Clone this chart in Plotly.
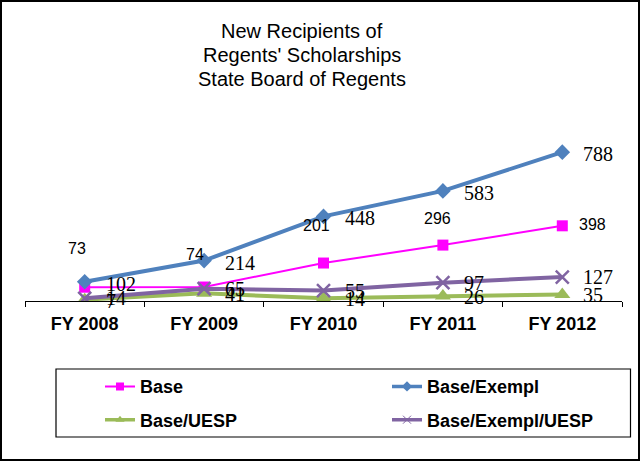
import plotly.graph_objects as go

# ---------------- data ----------------
categories = ["FY 2008", "FY 2009", "FY 2010", "FY 2011", "FY 2012"]
base = [73, 74, 201, 296, 398]
base_exempl = [102, 214, 448, 583, 788]
base_uesp = [7, 41, 14, 26, 35]
base_exempl_uesp = [14, 65, 55, 97, 127]
series_names = ["Base", "Base/Exempl", "Base/UESP", "Base/Exempl/UESP"]
title_lines = ["New Recipients of", "Regents' Scholarships", "State Board of Regents"]

# ---------------- layout geometry ----------------
W, H = 640, 461
ML, MR, MT, MB = 25, 18, 131, 160
PW, PH = W - ML - MR, H - MT - MB


def px(x):
    return (x - ML) / PW


def py(y):
    return (H - MB - y) / PH


SANS = "Liberation Sans, Arial, sans-serif"
SERIF = "Liberation Serif, Times New Roman, serif"

colors = ["#FF00FF", "#4F81BD", "#9BBB59", "#8064A2"]
widths = [2, 4, 4, 4]
symbols = ["square", "diamond", "triangle-up", "x-thin"]
msizes = [11, 12, 14, 13]
leg_msizes = [8, 8, 8, 8]
leg_widths = [2, 3.5, 3.5, 3.5]
legends = ["legend", "legend2", "legend3", "legend4"]
legend_pos = [(100, 386.7), (387, 386.7), (100, 420), (387, 420)]
all_series = [base, base_exempl, base_uesp, base_exempl_uesp]

fig = go.Figure()
for name, vals, c, w, s, ms in zip(series_names, all_series, colors, widths,
                                   symbols, msizes):
    marker = dict(symbol=s, size=ms, color=c)
    if s == "x-thin":
        marker["line"] = dict(width=2.5, color=c)
    fig.add_trace(go.Scatter(
        x=categories, y=vals, name=name, mode="lines+markers",
        line=dict(color=c, width=w), marker=marker, showlegend=False,
        hoverinfo="skip"))

# legend entries (smaller symbols, as in the reference legend)
for name, c, lw, s, ms, lg in zip(series_names, colors, leg_widths, symbols,
                                  leg_msizes, legends):
    marker = dict(symbol=s, size=ms, color=c)
    if s == "x-thin":
        marker["line"] = dict(width=1, color=c)
    fig.add_trace(go.Scatter(
        x=[categories[0]], y=[None], name=name, mode="lines+markers",
        line=dict(color=c, width=lw), marker=marker, legend=lg,
        showlegend=True, hoverinfo="skip"))

# ---------------- data labels ----------------
annotations = []
# Base labels (sans-serif, custom placement)
base_shift = [(-8, 39), (-9, 33), (-7, 38), (-5, 27), (30, 1)]
for cat, v, (dx, dy) in zip(categories, base, base_shift):
    annotations.append(dict(x=cat, y=v, xref="x", yref="y", text=str(v),
                            showarrow=False, xshift=dx, yshift=dy,
                            xanchor="center", yanchor="middle",
                            font=dict(family=SANS, size=16, color="black")))
# other series: label to the right (serif)
right_shift = {1: -2, 2: -1, 3: 0}
for idx in (1, 2, 3):
    for cat, v in zip(categories, all_series[idx]):
        annotations.append(dict(x=cat, y=v, xref="x", yref="y", text=str(v),
                                showarrow=False, xshift=19,
                                yshift=right_shift[idx],
                                xanchor="left", yanchor="middle",
                                font=dict(family=SERIF, size=20, color="black")))

# title lines
for line, ty in zip(title_lines, [31, 55, 78.5]):
    annotations.append(dict(x=px(302), y=py(ty), xref="paper", yref="paper",
                            text=line, showarrow=False, xanchor="center",
                            yanchor="middle",
                            font=dict(family=SANS, size=20, color="black")))

# ---------------- shapes: legend box & outer frame ----------------
shapes = [
    dict(type="rect", xref="paper", yref="paper",
         x0=px(56), x1=px(630.5), y0=py(437), y1=py(369),
         line=dict(color="black", width=1.2), fillcolor="rgba(0,0,0,0)"),
    dict(type="rect", xref="paper", yref="paper",
         x0=px(1), x1=px(639), y0=py(460), y1=py(1),
         line=dict(color="black", width=2), fillcolor="rgba(0,0,0,0)"),
]

legend_common = dict(
    orientation="v",
    font=dict(family=SANS, size=18, color="black", weight="bold"),
    bgcolor="rgba(0,0,0,0)", borderwidth=0,
    xref="container", yref="container", xanchor="left", yanchor="middle",
)
legend_layout = {}
for lg, (lx, ly) in zip(legends, legend_pos):
    legend_layout[lg] = dict(**legend_common, x=lx / W, y=1 - ly / H)

fig.update_layout(
    width=W, height=H,
    margin=dict(l=ML, r=MR, t=MT, b=MB, pad=0, autoexpand=False),
    paper_bgcolor="white", plot_bgcolor="white",
    xaxis=dict(type="category", range=[-0.5, 4.5], showline=True,
               linecolor="black", linewidth=1, ticks="outside",
               tickson="boundaries", ticklen=5, tickcolor="black",
               ticklabelstandoff=6,
               showgrid=False, zeroline=False,
               tickfont=dict(family=SANS, size=18, color="black", weight="bold")),
    yaxis=dict(range=[0, 900], visible=False, showgrid=False, zeroline=False),
    showlegend=True,
    annotations=annotations,
    shapes=shapes,
    **legend_layout,
)

fig.write_html("out.html",
               config={"displayModeBar": False},
               post_script="document.body.style.margin='0px';"
                           "document.body.style.overflow='hidden';")
